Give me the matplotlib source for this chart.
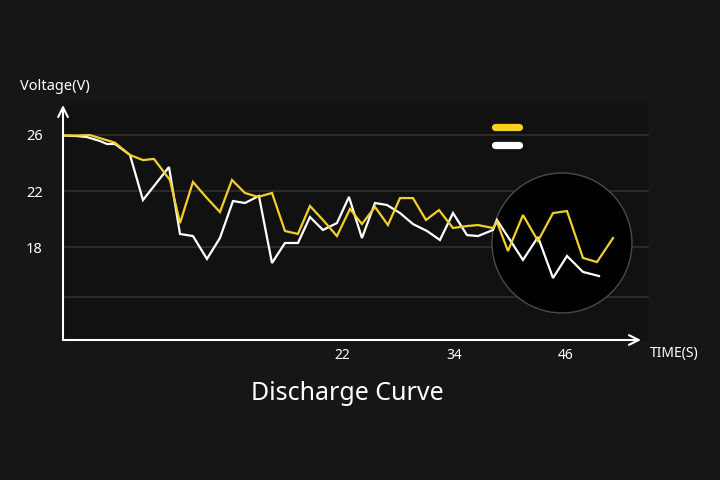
import matplotlib
matplotlib.use("Agg")
import matplotlib.pyplot as plt
from matplotlib.patches import Ellipse, Rectangle

plt.rcParams['font.family'] = ['Noto Sans', 'DejaVu Sans']

# ---- data ----
t_yellow = [-7.90, -6.40, -5.01, -2.33, -0.72, 0.67, 1.85, 3.56, 4.64, 6.03, 7.53, 8.92,
            10.21, 11.60, 13.00, 14.50, 15.89, 17.28, 18.57, 19.96, 21.46, 22.86, 24.14,
            25.54, 26.93, 28.22, 29.61, 31.00, 32.40, 33.90, 35.40, 36.58, 38.18, 38.61,
            39.79, 41.40, 43.01, 44.62, 46.12, 47.83, 49.33, 51.05]
v_yellow = [25.93, 25.93, 25.96, 25.42, 24.55, 24.19, 24.27, 22.78, 19.73, 22.64, 21.50, 20.51,
            22.78, 21.86, 21.58, 21.86, 19.17, 18.96, 20.94, 19.95, 18.81, 20.73, 19.66,
            20.87, 19.59, 21.50, 21.50, 19.95, 20.65, 19.38, 19.52, 19.59, 19.38, 19.81,
            17.75, 20.30, 18.46, 20.44, 20.58, 17.26, 16.97, 18.67]

t_white = [-7.90, -6.40, -5.33, -3.94, -3.19, -2.33, -0.72, 0.67, 3.46, 4.64, 6.03, 7.53,
           8.92, 10.32, 11.60, 13.10, 14.50, 15.89, 17.28, 18.57, 19.96, 21.46, 22.75,
           24.14, 25.54, 26.82, 28.22, 29.61, 31.11, 32.50, 33.90, 35.40, 36.58, 38.18,
           38.61, 41.40, 43.01, 44.62, 46.12, 47.83, 49.55]
v_white = [25.93, 25.89, 25.82, 25.54, 25.33, 25.33, 24.55, 21.36, 23.70, 18.96, 18.81, 17.19,
           18.67, 21.29, 21.15, 21.65, 16.90, 18.32, 18.32, 20.16, 19.24, 19.73, 21.58,
           18.67, 21.15, 21.01, 20.44, 19.66, 19.17, 18.53, 20.44, 18.88, 18.81, 19.24,
           19.95, 17.12, 18.74, 15.84, 17.40, 16.27, 15.98]

y_ticks = [26, 22, 18]
y_tick_labels = ["26", "22", "18"]
grid_levels = [26, 22, 18, 14.5]
x_ticks = [22, 34, 46]
x_tick_labels = ["22", "34", "46"]

title = "Discharge Curve"
y_label = "Voltage(V)"
x_label = "TIME(S)"

YELLOW = "#f2cf2a"
WHITE = "#ffffff"
BG = "#161616"
PANEL = "#111111"

W, H = 720, 480
fig = plt.figure(figsize=(7.2, 4.8), dpi=100, facecolor=BG)

# subtle darker panel behind the plot area
fig.patches.append(Rectangle((62 / W, 1 - 342 / H), (648 - 62) / W, (342 - 103) / H,
                             transform=fig.transFigure, facecolor=PANEL, edgecolor='none',
                             zorder=-5))

ax = fig.add_axes([63 / W, 1 - 340 / H, (641 - 63) / W, (340 - 105) / H])
ax.set_zorder(2)
ax.set_facecolor('none')
ax.set_xlim(-7.9, 54.05)
ax.set_ylim(11.45, 28.09)
for s in ax.spines.values():
    s.set_visible(False)

# grid lines
for g in grid_levels:
    ax.axhline(g, xmin=0, xmax=1.012, color="#2d2d2d", lw=1.3, zorder=1, clip_on=False)

# magnifier circle
ax.add_patch(Ellipse((45.58, 18.32), 15.0, 9.91, facecolor="#000000",
                     edgecolor="#4a4a4a", lw=1.0, zorder=2))

ax.plot(t_yellow, v_yellow, color=YELLOW, lw=1.6, zorder=4, solid_joinstyle='miter')
ax.plot(t_white, v_white, color=WHITE, lw=1.6, zorder=3, solid_joinstyle='miter')

# legend swatches (no labels)
ax.plot([38.45, 41.02], [26.55, 26.55], color="#f7d21c", lw=5.2, solid_capstyle='round',
        zorder=5, clip_on=False)
ax.plot([38.45, 41.02], [25.24, 25.24], color=WHITE, lw=5.2, solid_capstyle='round',
        zorder=5, clip_on=False)

# axes arrows
xl, yl = ax.get_xlim(), ax.get_ylim()
arrow = dict(arrowstyle='->,head_length=0.7,head_width=0.35', color=WHITE, lw=1.5,
             shrinkA=0, shrinkB=0)
ax.annotate('', xy=(xl[0], yl[1]), xytext=(xl[0], yl[0]), arrowprops=arrow,
            annotation_clip=False, zorder=6)
ax.annotate('', xy=(xl[1], yl[0]), xytext=(xl[0], yl[0]), arrowprops=arrow,
            annotation_clip=False, zorder=6)

ax.set_yticks(y_ticks)
ax.set_yticklabels(y_tick_labels)
ax.set_xticks(x_ticks)
ax.set_xticklabels(x_tick_labels)
ax.tick_params(axis='y', length=0, pad=14.5, labelsize=10.5, colors=WHITE)
ax.tick_params(axis='x', length=0, pad=6, labelsize=10, colors=WHITE)

fig.text(55 / W, 1 - 87 / H, y_label, color=WHITE, fontsize=10.5, ha='center', va='center')
fig.text(674 / W, 1 - 353 / H, x_label, color=WHITE, fontsize=10, ha='center', va='center')
fig.text(347 / W, 1 - 393 / H, title, color=WHITE, fontsize=18, ha='center', va='center')

fig.savefig("out.png", dpi=100, facecolor=BG)
